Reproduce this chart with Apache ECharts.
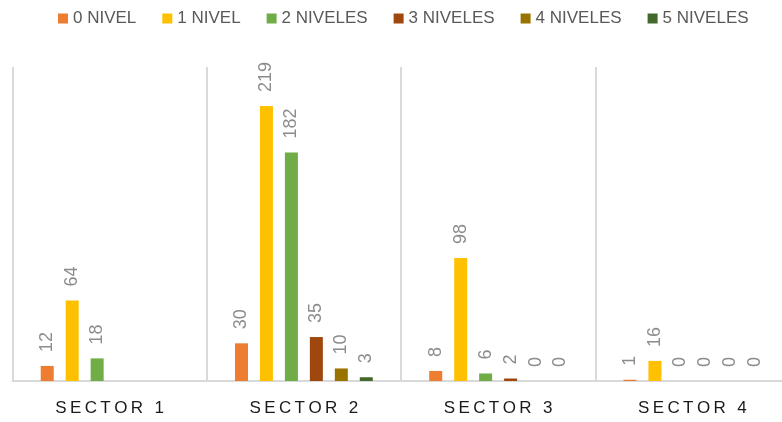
<!DOCTYPE html>
<html>
<head>
<meta charset="utf-8">
<script src="https://cdn.jsdelivr.net/npm/echarts@6/dist/echarts.min.js"></script>
<style>
  html, body { margin: 0; padding: 0; background: #fff; overflow: hidden; }
  /* the plot runs a few pixels past the right edge of the window */
  #chart { width: 790px; height: 422px; }
</style>
</head>
<body>
<div id="chart"></div>
<script>
// Sectors along the x axis
const sectors = ['SECTOR 1', 'SECTOR 2', 'SECTOR 3', 'SECTOR 4'];

// Counts per level (null = no bar and no label)
const nivel0 = [12, 30, 8, 1];
const nivel1 = [64, 219, 98, 16];
const nivel2 = [18, 182, 6, 0];
const nivel3 = [null, 35, 2, 0];
const nivel4 = [null, 10, 0, 0];
const nivel5 = [null, 3, 0, 0];

const seriesNames = ['0 NIVEL', '1 NIVEL', '2 NIVELES', '3 NIVELES', '4 NIVELES', '5 NIVELES'];
const seriesData = [nivel0, nivel1, nivel2, nivel3, nivel4, nivel5];
const seriesColors = ['#ED7D31', '#FFC000', '#70AD47', '#9E480E', '#997300', '#43682B'];

const chart = echarts.init(document.getElementById('chart'));

const series = seriesNames.map((name, i) => ({
  name: name,
  type: 'bar',
  data: seriesData[i],
  barWidth: 13,
  barGap: '92%',
  itemStyle: { color: seriesColors[i] },
  label: {
    show: true,
    position: 'top',
    rotate: 90,
    align: 'left',
    verticalAlign: 'middle',
    distance: 14,
    color: '#8c8c8c',
    fontSize: 18,
    fontFamily: 'Liberation Sans, Arial, sans-serif'
  }
}));

chart.setOption({
  animation: false,
  legend: {
    top: 5,
    left: 53,
    itemWidth: 10,
    itemHeight: 10,
    itemGap: 26,
    icon: 'rect',
    textStyle: {
      color: '#595959',
      fontSize: 17,
      fontFamily: 'Liberation Sans Narrow, Arial Narrow, Liberation Sans, sans-serif'
    },
    data: seriesNames
  },
  grid: { left: 12.5, right: 0.5, top: 67, bottom: 41, containLabel: false },
  xAxis: {
    type: 'category',
    data: sectors,
    boundaryGap: true,
    axisLine: { show: true, lineStyle: { color: '#d9d9d9', width: 2 } },
    axisTick: { show: false },
    splitLine: { show: true, lineStyle: { color: '#d9d9d9', width: 2 } },
    axisLabel: {
      margin: 19,
      color: '#1a1a1a',
      fontSize: 17,
      fontFamily: 'Liberation Sans, Arial, sans-serif',
      formatter: v => v.split('').join('\u2009')
    }
  },
  yAxis: {
    type: 'value',
    min: 0,
    max: 250,
    show: false,
    splitLine: { show: false }
  },
  series: series
});
</script>
</body>
</html>
